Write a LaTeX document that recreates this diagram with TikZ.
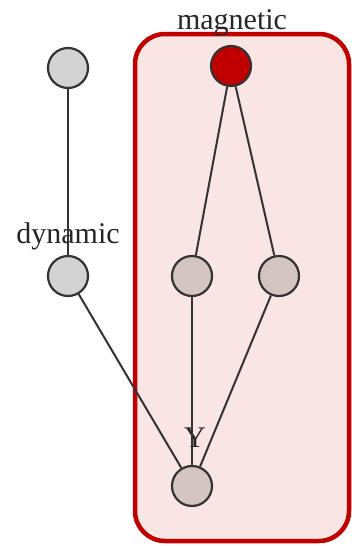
\documentclass[tikz,border=0pt]{standalone}
\usepackage{fontspec}
\setmainfont{Liberation Serif}
\usetikzlibrary{positioning,backgrounds}

\definecolor{boxred}{HTML}{C00000}
\definecolor{boxfill}{HTML}{F9E5E3}
\definecolor{vargray}{HTML}{D3D3D3}
\definecolor{innergray}{HTML}{D4C4C2}

\begin{document}
\begin{tikzpicture}[
	x=1pt, y=-1pt,
	font=\rmfamily\fontsize{30}{34}\selectfont,
	var/.style={circle, draw=black!80, line width=2.2pt, fill=vargray,
		minimum size=40pt, inner sep=0pt},
	inner/.style={var, fill=innergray},
	obs/.style={var, fill=boxred},
	edge/.style={line width=2pt, black!80},
	lbl/.style={inner sep=0pt, text=black!85},
]
\useasboundingbox (0,0) rectangle (352,546);

% ---- highlighted region ----
\draw[draw=boxred, fill=boxfill, line width=4.5pt, rounded corners=30pt]
	(135,34) rectangle (349,541);

% ---- variables ----
\node[var] (top) at (68,68) {};
\node[obs] (mag) at (231,66) {};
\node[var] (dyn) at (68,276) {};
\node[inner] (mid) at (192,276) {};
\node[inner] (rgt) at (279,276) {};
\node[inner] (y) at (192,486) {};

% ---- labels ----
\node[lbl] (maglbl) at (232,23) {magnetic};
\node[lbl] (dynlbl) at (68,236) {dynamic};
\node[lbl] (ylbl) at (195,438) {Y};

% ---- edges ----
\draw[edge] (top) -- (dyn);
\draw[edge] (mag) -- (mid);
\draw[edge] (mag) -- (rgt);
\draw[edge] (dyn) -- (y);
\draw[edge] (mid) -- (y);
\draw[edge] (rgt) -- (y);

\end{tikzpicture}
\end{document}
